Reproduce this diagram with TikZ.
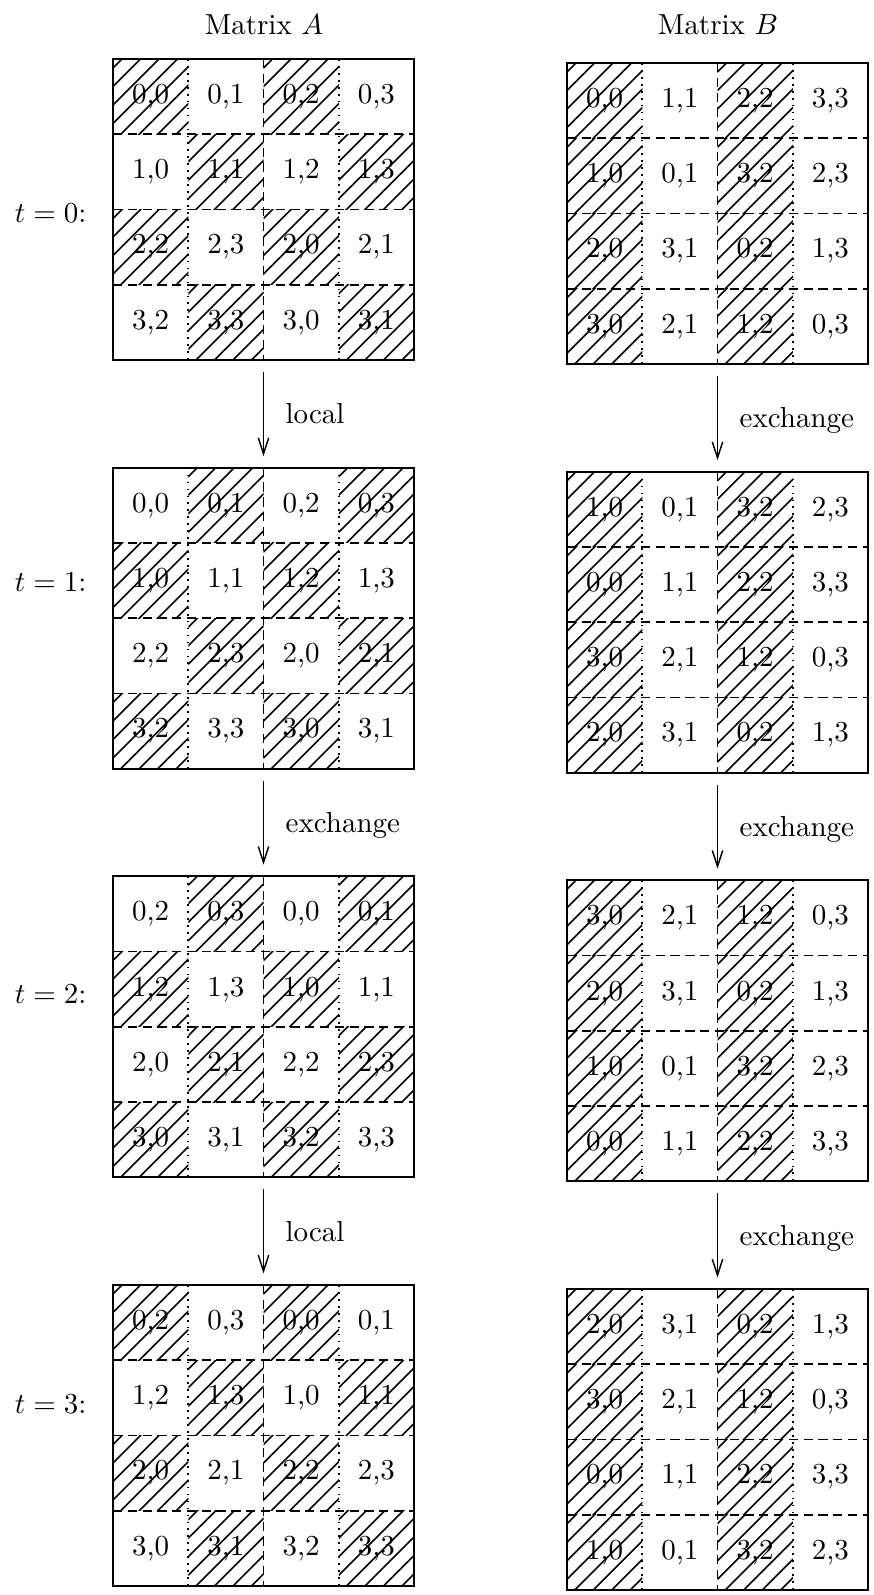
\documentclass[tikz,border=0pt]{standalone}
\usetikzlibrary{arrows.meta}
\tikzset{
  gridborder/.style={line width=0.65pt},
  hatchline/.style={line width=0.55pt},
  sepdash/.style={line width=0.6pt, dash pattern=on 3.2pt off 1.9pt},
  sepdot/.style={line width=0.6pt, dash pattern=on 0.6pt off 1.8pt},
  cell/.style={inner sep=0pt},
  arr/.style={line width=0.5pt, -{Straight Barb[length=5.5pt,width=3.6pt]}, shorten <=4.2pt, shorten >=4pt},
  steplabel/.style={anchor=base west, inner sep=0pt, xshift=7.4pt, yshift=-3.4pt},
  tlabel/.style={anchor=base east, inner sep=0pt},
}
\newcommand\mygrid[5]{%
  \coordinate (#3n) at (#1+150.5,#2);
  \coordinate (#3s) at (#1+150.5,#2+301);
  \foreach \p/\q [count=\i from 0] in {#5} {%
    \pgfmathtruncatemacro\rr{int(\i/4)}%
    \pgfmathtruncatemacro\cc{mod(\i,4)}%
    \pgfmathsetmacro\cx{#1+75.25*\cc}%
    \pgfmathsetmacro\cy{#2+75.25*\rr}%
    \pgfmathtruncatemacro\hh{#4==2 ? (mod(\cc,2)==0) : (mod(\rr+\cc+#4,2)==0)}%
    \ifnum\hh=1
      \begin{scope}
        \clip (\cx,\cy) rectangle ++(75.25,75.25);
        \foreach \k in {0,...,9} \draw[hatchline] (\cx-71+18.5*\k,\cy+80) -- ++(90,-90);
      \end{scope}
    \fi
    \node[cell] (#3-\rr\cc) at (\cx+37.6,\cy+37.6) {\p,\q};
  }
  \draw[sepdot] (#1+75.25,#2) -- ++(0,301);
  \draw[sepdot] (#1+225.75,#2) -- ++(0,301);
  \draw[sepdash] (#1+150.5,#2) -- ++(0,301);
  \foreach \r in {1,2,3} \draw[sepdash] (#1,#2+75.25*\r) -- ++(301,0);
  \draw[gridborder] (#1,#2) rectangle ++(301,301);
}
\begin{document}
\begin{tikzpicture}[x=0.345pt,y=-0.345pt]
\useasboundingbox (0,0) rectangle (874,1595);

\node[anchor=base] (titleA) at (264,35) {Matrix $A$};
\node[anchor=base] (titleB) at (718,35) {Matrix $B$};

\mygrid{113}{59}{A0}{0}{0/0,0/1,0/2,0/3,1/0,1/1,1/2,1/3,2/2,2/3,2/0,2/1,3/2,3/3,3/0,3/1}
\mygrid{113}{467.7}{A1}{1}{0/0,0/1,0/2,0/3,1/0,1/1,1/2,1/3,2/2,2/3,2/0,2/1,3/2,3/3,3/0,3/1}
\mygrid{113}{876.3}{A2}{1}{0/2,0/3,0/0,0/1,1/2,1/3,1/0,1/1,2/0,2/1,2/2,2/3,3/0,3/1,3/2,3/3}
\mygrid{113}{1285}{A3}{0}{0/2,0/3,0/0,0/1,1/2,1/3,1/0,1/1,2/0,2/1,2/2,2/3,3/0,3/1,3/2,3/3}

\mygrid{567}{63}{B0}{2}{0/0,1/1,2/2,3/3,1/0,0/1,3/2,2/3,2/0,3/1,0/2,1/3,3/0,2/1,1/2,0/3}
\mygrid{567}{471.7}{B1}{2}{1/0,0/1,3/2,2/3,0/0,1/1,2/2,3/3,3/0,2/1,1/2,0/3,2/0,3/1,0/2,1/3}
\mygrid{567}{880.3}{B2}{2}{3/0,2/1,1/2,0/3,2/0,3/1,0/2,1/3,1/0,0/1,3/2,2/3,0/0,1/1,2/2,3/3}
\mygrid{567}{1289}{B3}{2}{2/0,3/1,0/2,1/3,3/0,2/1,1/2,0/3,0/0,1/1,2/2,3/3,1/0,0/1,3/2,2/3}

\node[tlabel] (t0) at (87,222) {$t=0$:};
\node[tlabel] (t1) at (87,591) {$t=1$:};
\node[tlabel] (t2) at (87,1003) {$t=2$:};
\node[tlabel] (t3) at (87,1413) {$t=3$:};

\draw[arr] (A0s) -- node[steplabel] (lA1) {local} (A1n);
\draw[arr] (A1s) -- node[steplabel] (lA2) {exchange} (A2n);
\draw[arr] (A2s) -- node[steplabel] (lA3) {local} (A3n);
\draw[arr] (B0s) -- node[steplabel] (lB1) {exchange} (B1n);
\draw[arr] (B1s) -- node[steplabel] (lB2) {exchange} (B2n);
\draw[arr] (B2s) -- node[steplabel] (lB3) {exchange} (B3n);
\end{tikzpicture}
\end{document}
